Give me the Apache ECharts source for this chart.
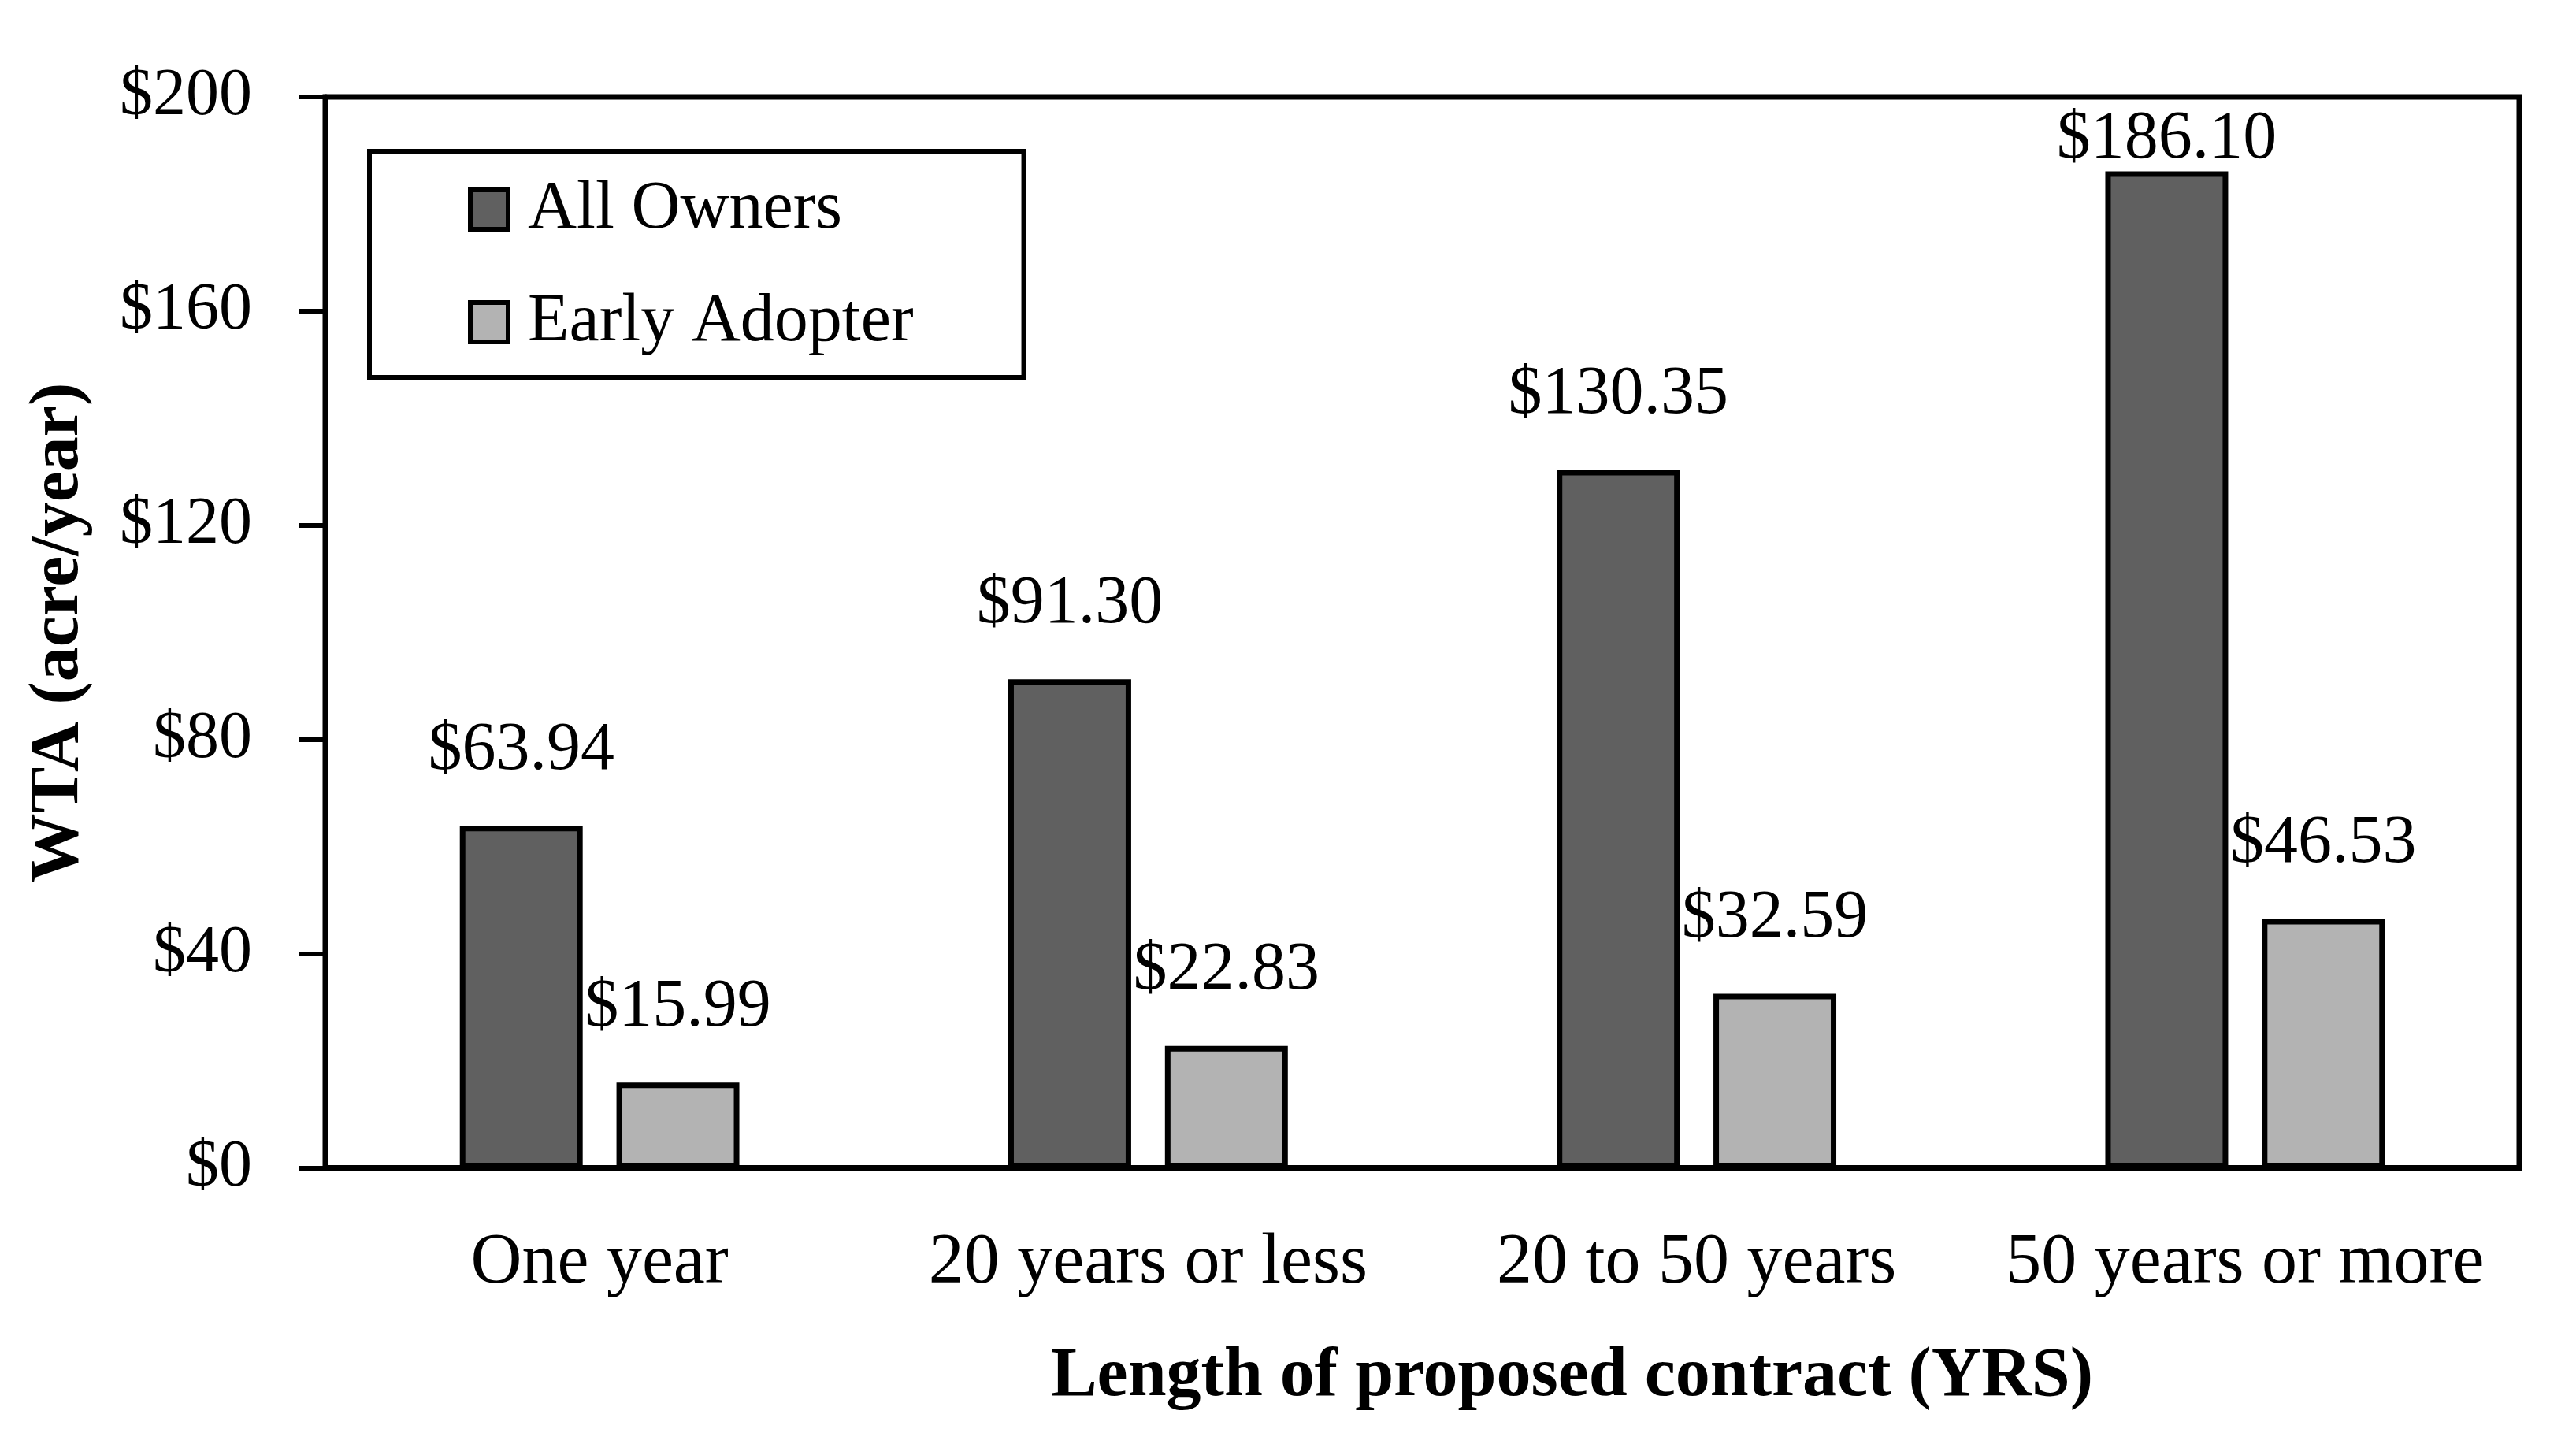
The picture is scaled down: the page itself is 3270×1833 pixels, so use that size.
<!DOCTYPE html>
<html>
<head>
<meta charset="utf-8">
<script src="https://cdn.jsdelivr.net/npm/echarts@6/dist/echarts.min.js"></script>
<style>
html,body{margin:0;padding:0;background:#fff;}
#chart{width:3270px;height:1833px;}
</style>
</head>
<body>
<div id="chart"></div>
<script>
const categories = ['One year', '20 years or less', '20 to 50 years', '50 years or more'];
const seriesNames = ['All Owners', 'Early Adopter'];
const allOwners = [63.94, 91.30, 130.35, 186.10];
const earlyAdopter = [15.99, 22.83, 32.59, 46.53];
const yTicks = [0, 40, 80, 120, 160, 200];

const FONT = 'Liberation Serif';
const chart = echarts.init(document.getElementById('chart'), null, {renderer: 'canvas'});

function labelFmt(p) { return '$' + Number(p.value).toFixed(2); }

const option = {
  backgroundColor: '#fff',
  animation: false,
  textStyle: {fontFamily: FONT, color: '#000'},
  grid: {
    left: 413, right: 72, top: 123, bottom: 350,
    show: true, borderColor: '#000', borderWidth: 7, backgroundColor: 'transparent'
  },
  legend: {
    orient: 'vertical',
    left: 469, top: 192,
    padding: [31, 140, 27, 125],
    borderColor: '#000', borderWidth: 6,
    itemWidth: 48, itemHeight: 50, itemGap: 57,
    icon: 'rect',
    itemStyle: {borderColor: '#000', borderWidth: 6},
    textStyle: {fontFamily: FONT, fontSize: 86, color: '#000', lineHeight: 86, padding: [0, 0, 0, 20]},
    data: seriesNames
  },
  xAxis: {
    type: 'category',
    data: categories,
    axisTick: {show: false},
    axisLine: {show: true, lineStyle: {color: '#000', width: 8}},
    axisLabel: {fontFamily: FONT, fontSize: 90, color: '#000', margin: 76, interval: 0},
    name: 'Length of proposed contract (YRS)',
    nameLocation: 'middle',
    nameGap: 221,
    nameTextStyle: {fontFamily: FONT, fontSize: 88, fontWeight: 'bold', color: '#000', padding: [0, 0, 0, 380]}
  },
  yAxis: {
    type: 'value',
    min: yTicks[0], max: yTicks[yTicks.length - 1], interval: 40,
    splitLine: {show: false},
    axisLine: {show: true, lineStyle: {color: '#000', width: 7}},
    axisTick: {show: true, inside: false, length: 33, lineStyle: {color: '#000', width: 6}},
    axisLabel: {fontFamily: FONT, fontSize: 84, color: '#000', margin: 93, formatter: v => '$' + v},
    name: 'WTA (acre/year)',
    nameLocation: 'middle',
    nameGap: 294,
    nameTextStyle: {fontFamily: FONT, fontSize: 88, fontWeight: 'bold', color: '#000'}
  },
  series: [
    {
      name: seriesNames[0],
      type: 'bar',
      barWidth: '22.4%',
      barGap: '27.5%',
      data: allOwners.map((v, i) => (v === Math.max(...allOwners)) ? {value: v, label: {distance: -3}} : v),
      itemStyle: {color: '#606060', borderColor: '#000', borderWidth: 7},
      label: {show: true, position: 'top', distance: 52, fontFamily: FONT, fontSize: 86, color: '#000', lineHeight: 86, formatter: labelFmt}
    },
    {
      name: seriesNames[1],
      type: 'bar',
      barWidth: '22.4%',
      barGap: '27.5%',
      data: earlyAdopter,
      itemStyle: {color: '#b3b3b3', borderColor: '#000', borderWidth: 7},
      label: {show: true, position: 'top', distance: 52, fontFamily: FONT, fontSize: 86, color: '#000', lineHeight: 86, formatter: labelFmt}
    }
  ]
};
chart.setOption(option);
</script>
</body>
</html>
